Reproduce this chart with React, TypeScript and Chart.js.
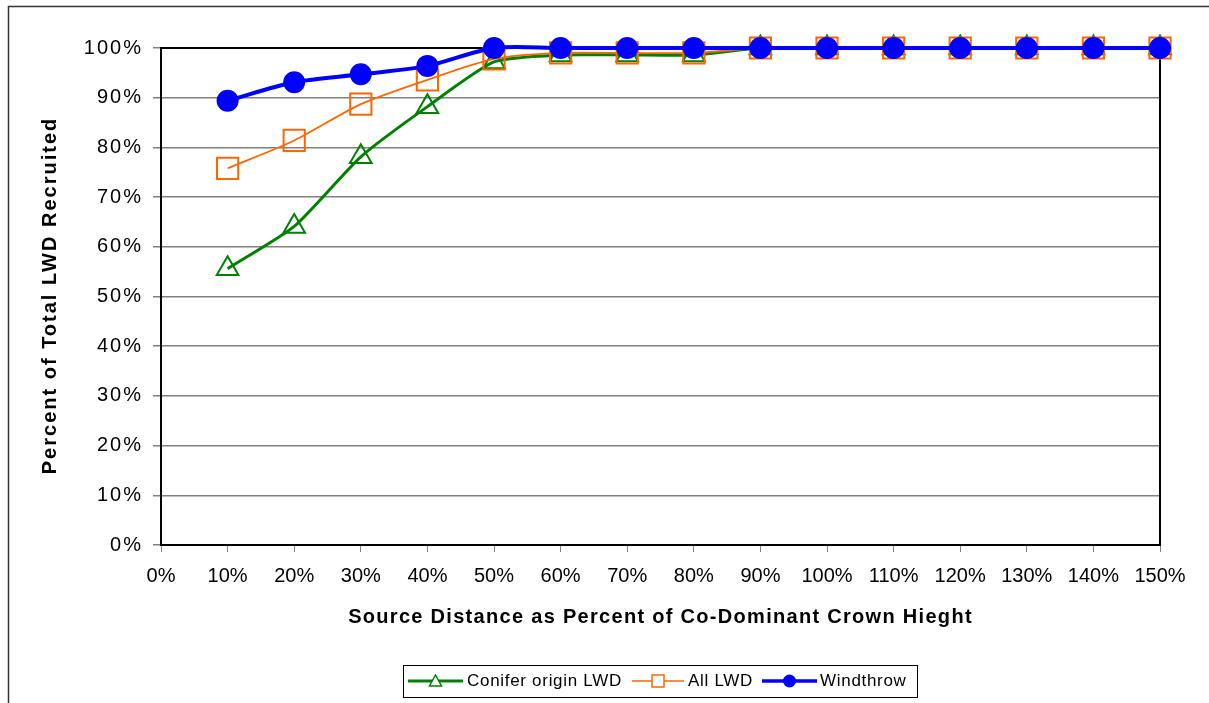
import React, { useEffect, useRef } from 'react';
import { Chart, registerables } from 'chart.js';

Chart.register(...registerables);

const sourceDistance = [10, 20, 30, 40, 50, 60, 70, 80, 90, 100, 110, 120, 130, 140, 150];
const coniferOriginLWD = [55.6, 64.1, 78.1, 88.2, 97.2, 98.6, 98.6, 98.6, 100, 100, 100, 100, 100, 100, 100];
const allLWD = [75.8, 81.4, 88.7, 93.6, 97.8, 99.0, 99.0, 99.0, 100, 100, 100, 100, 100, 100, 100];
const windthrow = [89.4, 93.1, 94.7, 96.4, 100, 100, 100, 100, 100, 100, 100, 100, 100, 100, 100];

const seriesNames = ['Conifer origin LWD', 'All LWD', 'Windthrow'];
const seriesColors = ['#008000', '#FF6600', '#0000FF'];
const yAxisTitle = 'Percent of Total LWD Recruited';
const xAxisTitle = 'Source Distance as Percent of Co-Dominant Crown Hieght';

const FONT = '"Liberation Sans", Arial, sans-serif';

function toPoints(vals: number[]) {
  return sourceDistance.map((x, i) => ({ x, y: vals[i] }));
}

function drawMarker(ctx: CanvasRenderingContext2D, kind: string, x: number, y: number, color: string) {
  ctx.save();
  ctx.strokeStyle = color;
  ctx.fillStyle = color;
  ctx.lineWidth = 1.5;
  ctx.beginPath();
  if (kind === 'triangle') {
    ctx.moveTo(x, y - 6);
    ctx.lineTo(x + 6, y + 5);
    ctx.lineTo(x - 6, y + 5);
    ctx.closePath();
    ctx.fillStyle = '#fff';
    ctx.fill();
    ctx.stroke();
  } else if (kind === 'rect') {
    ctx.rect(x - 6, y - 6, 12, 12);
    ctx.fillStyle = '#fff';
    ctx.fill();
    ctx.stroke();
  } else {
    ctx.arc(x, y, 6.5, 0, Math.PI * 2);
    ctx.fill();
  }
  ctx.restore();
}

const framePlugin = {
  id: 'frameAndLegend',
  beforeDatasetsDraw(chart: any) {
    const { ctx, chartArea: a } = chart;
    ctx.save();
    ctx.strokeStyle = '#000';
    ctx.lineWidth = 2;
    ctx.strokeRect(a.left, a.top, a.right - a.left, a.bottom - a.top);
    ctx.restore();
  },
  afterDatasetsDraw(chart: any) {
    // y tick labels are drawn after datasets (z: 1): give them Excel-like spacing
    (chart.ctx as any).letterSpacing = '2px';
  },
  afterDraw(chart: any) {
    const ctx: CanvasRenderingContext2D = chart.ctx;
    (ctx as any).letterSpacing = '0px';
    const a = chart.chartArea;
    ctx.save();
    // outer chart frame
    ctx.strokeStyle = '#333';
    ctx.lineWidth = 1.5;
    ctx.beginPath();
    ctx.moveTo(8.5, 720);
    ctx.lineTo(8.5, 6.5);
    ctx.lineTo(1220, 6.5);
    ctx.stroke();

    // axis titles
    ctx.fillStyle = '#000';
    ctx.textAlign = 'center';
    ctx.textBaseline = 'middle';
    ctx.font = `bold 20px ${FONT}`;
    (ctx as any).letterSpacing = '1.3px';
    ctx.fillText(xAxisTitle, (a.left + a.right) / 2, 617);
    ctx.save();
    ctx.translate(50, (a.top + a.bottom) / 2 - 1);
    ctx.rotate(-Math.PI / 2);
    (ctx as any).letterSpacing = '2px';
    ctx.fillText(yAxisTitle, 0, 0);
    ctx.restore();
    (ctx as any).letterSpacing = '0px';

    // legend box
    ctx.strokeStyle = '#000';
    ctx.lineWidth = 1;
    ctx.strokeRect(403.5, 665.5, 514, 32);
    const yMid = 681;
    const items = [
      { x0: 408, x1: 463, text: 467, kind: 'triangle', lw: 3 },
      { x0: 632, x1: 684, text: 688, kind: 'rect', lw: 1.5 },
      { x0: 762, x1: 817, text: 820, kind: 'circle', lw: 3.5 },
    ];
    items.forEach((it, i) => {
      const c = seriesColors[i];
      ctx.strokeStyle = c;
      ctx.lineWidth = it.lw;
      ctx.beginPath();
      ctx.moveTo(it.x0, yMid);
      ctx.lineTo(it.x1, yMid);
      ctx.stroke();
      drawMarker(ctx, it.kind, (it.x0 + it.x1) / 2, yMid, c);
      ctx.fillStyle = '#000';
      ctx.font = `17px ${FONT}`;
      ctx.textBaseline = 'middle';
      ctx.textAlign = 'left';
      (ctx as any).letterSpacing = '0.7px';
      ctx.fillText(seriesNames[i], it.text, yMid);
      (ctx as any).letterSpacing = '0px';
    });
    ctx.restore();
  },
};

export default function App() {
  const ref = useRef<HTMLCanvasElement | null>(null);

  useEffect(() => {
    if (!ref.current) return;
    const chart = new Chart(ref.current, {
      type: 'line',
      data: {
        datasets: [
          {
            label: seriesNames[0],
            data: toPoints(coniferOriginLWD),
            borderColor: seriesColors[0],
            backgroundColor: 'rgba(0,0,0,0)',
            borderWidth: 3,
            pointStyle: 'triangle',
            pointRadius: 12.5,
            pointBorderWidth: 2,
            pointBorderColor: seriesColors[0],
            pointBackgroundColor: 'rgba(0,0,0,0)',
            tension: 0.2,
            capBezierPoints: false,
            clip: false,
            order: 2,
          },
          {
            label: seriesNames[1],
            data: toPoints(allLWD),
            borderColor: seriesColors[1],
            backgroundColor: 'rgba(0,0,0,0)',
            borderWidth: 1.8,
            pointStyle: 'rect',
            pointRadius: 15,
            pointBorderWidth: 2,
            pointBorderColor: seriesColors[1],
            pointBackgroundColor: 'rgba(0,0,0,0)',
            tension: 0.25,
            capBezierPoints: false,
            clip: false,
            order: 1,
          },
          {
            label: seriesNames[2],
            data: toPoints(windthrow),
            borderColor: seriesColors[2],
            backgroundColor: 'rgba(0,0,0,0)',
            borderWidth: 4,
            pointStyle: 'circle',
            pointRadius: 11,
            pointBorderWidth: 0,
            pointBackgroundColor: seriesColors[2],
            tension: 0.3,
            capBezierPoints: false,
            clip: false,
            order: 0,
          },
        ],
      },
      options: {
        animation: false,
        responsive: true,
        maintainAspectRatio: false,
        layout: { padding: { left: 0, top: 48, right: 49, bottom: 68 } },
        plugins: {
          legend: { display: false },
          tooltip: { enabled: false },
        },
        scales: {
          x: {
            type: 'linear',
            min: 0,
            max: 150,
            ticks: {
              stepSize: 10,
              color: '#000',
              padding: 12,
              font: { family: FONT, size: 20 },
              callback: (v: any) => `${v}%`,
              maxRotation: 0,
              autoSkip: false,
            },
            grid: {
              drawOnChartArea: false,
              drawTicks: true,
              tickLength: 7,
              tickColor: '#808080',
              tickWidth: 1,
            },
            border: { display: true, color: '#000', width: 2 },
            title: { display: false },
            afterFit: (s: any) => {
              s.height = 90;
              s.paddingLeft = 0;
              s.paddingRight = 0;
            },
          },
          y: {
            type: 'linear',
            min: 0,
            max: 100,
            ticks: {
              stepSize: 10,
              color: '#000',
              padding: 10,
              z: 1,
              font: { family: FONT, size: 20 },
              callback: (v: any) => `${v}%`,
            },
            grid: {
              color: '#808080',
              lineWidth: 1.5,
              drawTicks: true,
              tickLength: 8,
              tickColor: '#808080',
            },
            border: { display: true, color: '#000', width: 2 },
            title: { display: false },
            afterFit: (s: any) => {
              s.width = 161;
              s.paddingTop = 0;
              s.paddingBottom = 0;
            },
          },
        },
      },
      plugins: [framePlugin],
    } as any);
    return () => chart.destroy();
  }, []);

  return (
    <div style={{ position: 'absolute', left: 0, top: 0, width: 1209, height: 703, background: '#fff' }}>
      <canvas ref={ref} />
    </div>
  );
}
